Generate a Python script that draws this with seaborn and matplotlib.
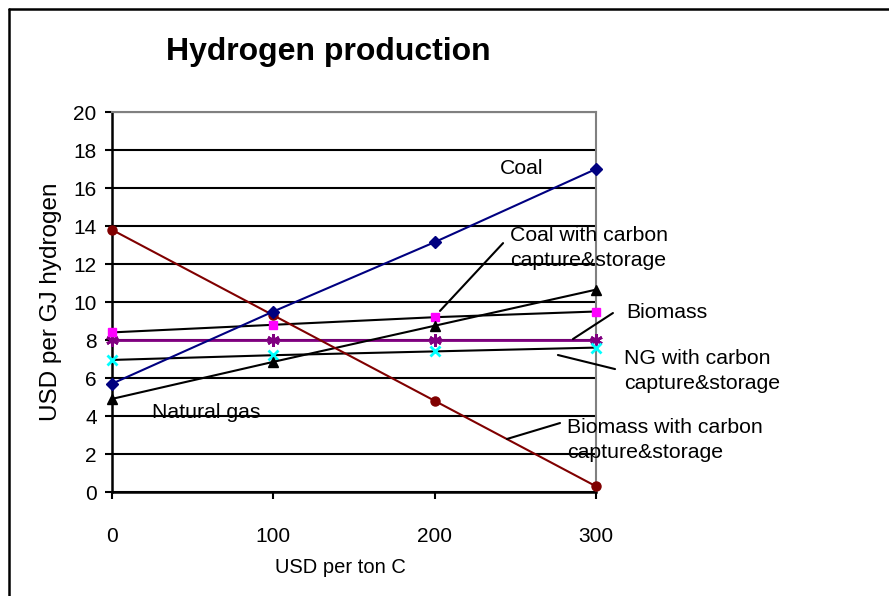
import matplotlib
matplotlib.use("Agg")
import matplotlib.pyplot as plt
from matplotlib.lines import Line2D
import seaborn as sns

# Data
carbon_tax = [0, 100, 200, 300]
coal = [5.7, 9.5, 13.15, 17.0]
biomass_ccs = [13.8, 9.3, 4.8, 0.3]
coal_ccs = [4.9, 6.85, 8.75, 10.65]
biomass = [8.4, 8.8, 9.2, 9.5]
ng_ccs = [6.95, 7.2, 7.4, 7.6]
natural_gas = [8.0, 8.0, 8.0, 8.0]

y_ticks = [0, 2, 4, 6, 8, 10, 12, 14, 16, 18, 20]
x_ticks = [0, 100, 200, 300]

sns.set_style("white")
plt.rcParams['font.family'] = ['Liberation Sans', 'DejaVu Sans']
plt.rcParams['text.color'] = 'black'
plt.rcParams['axes.labelcolor'] = 'black'

fig = plt.figure(figsize=(8.89, 5.96), dpi=100)
ax = fig.add_axes([112 / 889, 1 - 492 / 596, 484 / 889, 380 / 596])

# (values, line colour, marker, marker face, marker edge, marker size, line width)
series = [
    (natural_gas, "#800080", (6, 2, 0), "#800080", "#800080", 9, 2.0),
    (ng_ccs, "black", "x", "#00FFFF", "#00FFFF", 7, 1.5),
    (biomass, "black", "s", "#FF00FF", "#FF00FF", 6, 1.5),
    (coal_ccs, "black", "^", "black", "black", 7, 1.5),
    (biomass_ccs, "#800000", "o", "#800000", "#800000", 6.5, 1.5),
    (coal, "#000080", "D", "#000080", "#000080", 6, 1.5),
]

for vals, lc, mk, mfc, mec, ms, lw in series:
    sns.lineplot(x=carbon_tax, y=vals, ax=ax, color=lc, linewidth=lw,
                 marker=mk, markersize=ms, markerfacecolor=mfc,
                 markeredgecolor=mec, markeredgewidth=2 if mk in ("x", (6, 2, 0)) else 1,
                 clip_on=False, zorder=3)

ax.set_xlim(0, 300)
ax.set_ylim(0, 20)
ax.set_xticks(x_ticks)
ax.set_yticks(y_ticks)
ax.set_axisbelow(True)
ax.yaxis.grid(True, color="black", linewidth=1.5)
ax.xaxis.grid(False)

for side in ["left", "bottom"]:
    ax.spines[side].set_color("black")
    ax.spines[side].set_linewidth(1.8)
for side in ["top", "right"]:
    ax.spines[side].set_color("#808080")
    ax.spines[side].set_linewidth(1.5)

ax.tick_params(axis="both", labelsize=15, colors="black")
ax.tick_params(axis="y", direction="out", length=5, width=1.5, pad=6, left=True)
ax.tick_params(axis="x", direction="out", length=5, width=1.5, pad=20, bottom=True)

ax.set_xlabel("USD per ton C", fontsize=14.5, labelpad=9)
ax.xaxis.label.set_x((340 - 112) / 484)
ax.set_ylabel("USD per GJ hydrogen", fontsize=17.5, labelpad=8)

fig.text(328 / 889, 1 - 52 / 596, "Hydrogen production", fontsize=23,
         fontweight="bold", ha="center", va="center")

# series labels
lab_kw = dict(fontsize=15.3, ha="left", va="center", linespacing=1.4)
ax.text(240.5, 17.05, "Coal", **lab_kw)
ax.text(246.7, 12.82, "Coal with carbon\ncapture&storage", **lab_kw)
ax.text(318.6, 9.47, "Biomass", **lab_kw)
ax.text(317.4, 6.37, "NG with carbon\ncapture&storage", **lab_kw)
ax.text(282.0, 2.76, "Biomass with carbon\ncapture&storage", **lab_kw)
ax.text(24.8, 4.16, "Natural gas", **lab_kw)

# leader lines
leaders = [
    ((203.3, 9.53), (242.4, 13.1)),
    ((285.7, 8.05), (310.5, 9.42)),
    ((276.4, 7.21), (311.8, 6.47)),
    ((244.8, 2.79), (277.7, 3.63)),
]
for a, b in leaders:
    ax.annotate("", xy=a, xytext=b, annotation_clip=False,
                arrowprops=dict(arrowstyle="-", color="black", lw=1.5,
                                shrinkA=0, shrinkB=0))

# outer chart frame (left and top edges visible)
fig.add_artist(Line2D([8.5 / 889, 8.5 / 889], [0, 1 - 9 / 596], color="black", lw=1.8))
fig.add_artist(Line2D([8.5 / 889, 1], [1 - 9 / 596, 1 - 9 / 596], color="black", lw=1.8))

fig.savefig("out.png", dpi=100)
